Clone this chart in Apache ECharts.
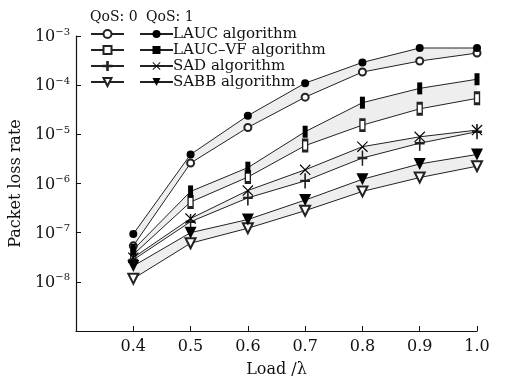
<!DOCTYPE html>
<html>
<head>
<meta charset="utf-8">
<script src="https://cdn.jsdelivr.net/npm/echarts@6/dist/echarts.min.js"></script>
<style>
  html, body { margin: 0; padding: 0; background: #fff; }
  #chart { width: 506px; height: 383px; }
</style>
</head>
<body>
<div id="chart"></div>
<script>
const loads = [0.4, 0.5, 0.6, 0.7, 0.8, 0.9, 1.0]

// QoS 0 (open markers) / QoS 1 (filled markers)
const laucQ0 = [5.4e-8, 2.6e-6, 1.38e-5, 5.7e-5, 1.85e-4, 3.1e-4, 4.5e-4]
const laucQ1 = [9.4e-8, 3.9e-6, 2.4e-5, 1.1e-4, 2.9e-4, 5.7e-4, 5.7e-4]
const laucVfQ0 = [3.6e-8, 4.2e-7, 1.35e-6, 5.9e-6, 1.54e-5, 3.3e-5, 5.4e-5]
const laucVfQ1 = [4.5e-8, 6.9e-7, 2.1e-6, 1.13e-5, 4.4e-5, 8.6e-5, 1.32e-4]
const sadQ0 = [2.8e-8, 1.67e-7, 5.1e-7, 1.13e-6, 3.3e-6, 6.6e-6, 1.13e-5]
const sadQ1 = [3.1e-8, 1.94e-7, 7.2e-7, 1.9e-6, 5.6e-6, 8.9e-6, 1.22e-5]
const sabbQ0 = [1.16e-8, 6.1e-8, 1.23e-7, 2.8e-7, 6.9e-7, 1.32e-6, 2.25e-6]
const sabbQ1 = [2.1e-8, 1.0e-7, 1.85e-7, 4.6e-7, 1.22e-6, 2.5e-6, 3.9e-6]

const names = ['LAUC algorithm', 'LAUC\u2013VF algorithm', 'SAD algorithm', 'SABB algorithm']

const FONT = '"DejaVu Serif", serif'
const INK = '#222'

const plusPath = 'path://M4.6,0H5.4V4.6H10V5.4H5.4V10H4.6V5.4H0V4.6H4.6Z'
const crossPath = 'path://M0,1.8L0.7,1.1L5,4.9L9.3,1.1L10,1.8L5.7,5.6L10,9.3L9.3,10L5,6.3L0.7,10L0,9.3L4.3,5.6Z'

const pairs = [
  { name: names[0], q0: laucQ0, q1: laucQ1,
    s0: { symbol: 'emptyCircle', symbolSize: 7 }, s1: { symbol: 'circle', symbolSize: 8 } },
  { name: names[1], q0: laucVfQ0, q1: laucVfQ1,
    s0: { symbol: 'emptyRect', symbolSize: [5, 11] }, s1: { symbol: 'rect', symbolSize: [5, 12] } },
  { name: names[2], q0: sadQ0, q1: sadQ1,
    s0: { symbol: plusPath, symbolSize: [9, 14] }, s1: { symbol: crossPath, symbolSize: [11, 11] } },
  { name: names[3], q0: sabbQ0, q1: sabbQ1,
    s0: { symbol: 'emptyTriangle', symbolSize: 10, symbolRotate: 180 },
    s1: { symbol: 'triangle', symbolSize: 12, symbolRotate: 180 } }
]

const bandSeries = pairs.map(p => ({
  type: 'custom',
  silent: true,
  z: 1,
  data: loads.slice(0, -1).map((x, i) => [x, p.q1[i], loads[i + 1], p.q1[i + 1], p.q0[i + 1], p.q0[i]]),
  renderItem: (params, api) => ({
    type: 'polygon',
    shape: {
      points: [
        api.coord([api.value(0), api.value(1)]),
        api.coord([api.value(2), api.value(3)]),
        api.coord([api.value(2), api.value(4)]),
        api.coord([api.value(0), api.value(5)])
      ]
    },
    style: { fill: '#eeeeee', stroke: null }
  })
}))

const lineSeries = []
pairs.forEach(p => {
  lineSeries.push({
    name: p.name + ' (QoS 0)',
    type: 'line',
    z: 3,
    data: loads.map((x, i) => [x, p.q0[i]]),
    ...p.s0,
    showAllSymbol: true,
    lineStyle: { color: INK, width: 1 },
    itemStyle: { color: INK, borderColor: INK, borderWidth: 1 }
  })
  lineSeries.push({
    name: p.name,
    type: 'line',
    z: 4,
    data: loads.map((x, i) => [x, p.q1[i]]),
    ...p.s1,
    showAllSymbol: true,
    lineStyle: { color: INK, width: 1 },
    itemStyle: { color: '#000', borderColor: '#000', borderWidth: 0 }
  })
})

const chart = echarts.init(document.getElementById('chart'), null, { renderer: 'canvas' })

const legendText = { fontFamily: FONT, fontSize: 15, color: '#111', lineHeight: 16 }
const qosText = { fontFamily: FONT, fontSize: 14, fontWeight: 'normal', color: '#111' }

chart.setOption({
  animation: false,
  backgroundColor: '#fff',
  title: [
    { text: 'QoS: 0', left: 85, top: 5, textStyle: qosText },
    { text: 'QoS: 1', left: 141, top: 5, textStyle: qosText }
  ],
  legend: [
    {
      data: pairs.map(p => p.name + ' (QoS 0)'),
      orient: 'vertical',
      left: 85, top: 21,
      itemWidth: 33, itemHeight: 10, itemGap: 0,
      selectedMode: false,
      formatter: () => ' ',
      textStyle: legendText
    },
    {
      data: names,
      orient: 'vertical',
      left: 134, top: 21,
      itemWidth: 33, itemHeight: 10, itemGap: 0,
      selectedMode: false,
      textStyle: { ...legendText, padding: [0, 0, 0, -5] }
    }
  ],
  grid: { left: 75, right: 29, top: 36, bottom: 45 },
  xAxis: {
    type: 'value',
    min: 0.3, max: 1.0, interval: 0.1,
    name: 'Load /\u03bb',
    nameLocation: 'middle',
    nameGap: 31,
    nameTextStyle: { fontFamily: FONT, fontSize: 16, color: '#111' },
    axisLine: { lineStyle: { color: '#111', width: 1.2 } },
    axisTick: { inside: true, length: 5, lineStyle: { color: '#111' } },
    axisLabel: {
      margin: 8,
      fontFamily: FONT, fontSize: 16, color: '#111',
      formatter: v => v < 0.35 ? '' : v.toFixed(1)
    },
    splitLine: { show: false }
  },
  yAxis: {
    type: 'log',
    logBase: 10,
    min: 1e-9, max: 1e-3,
    name: 'Packet loss rate',
    nameLocation: 'middle',
    nameGap: 50,
    nameRotate: 90,
    nameTextStyle: { fontFamily: FONT, fontSize: 16, color: '#111' },
    axisLine: { show: true, lineStyle: { color: '#111', width: 1.2 } },
    axisTick: { show: true, inside: true, length: 5, lineStyle: { color: '#111' } },
    axisLabel: {
      margin: 6,
      formatter: v => {
        const e = Math.round(Math.log10(v))
        return e <= -9 ? '' : '{b|10}{s|\u2212' + (-e) + '}'
      },
      rich: {
        b: { fontFamily: FONT, fontSize: 16, color: '#111', lineHeight: 18, verticalAlign: 'bottom' },
        s: { fontFamily: FONT, fontSize: 10, color: '#111', lineHeight: 18, verticalAlign: 'top', padding: [0, 0, 6, 0] }
      }
    },
    splitLine: { show: false },
    minorTick: { show: false }
  },
  series: [...bandSeries, ...lineSeries]
})
</script>
</body>
</html>
